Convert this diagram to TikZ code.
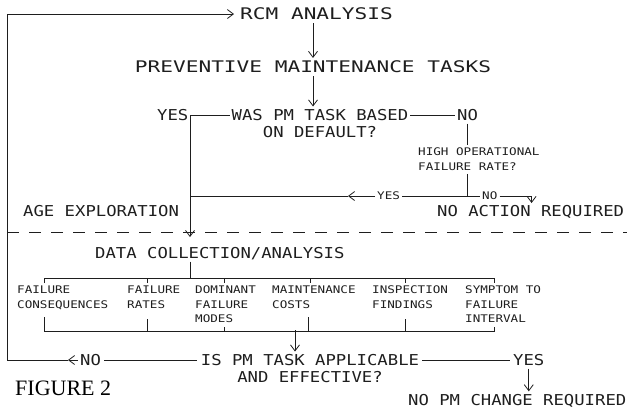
\documentclass[tikz,border=0pt]{standalone}
\usepackage{fontspec}
\usepackage{tikz}
\usetikzlibrary{arrows.meta, positioning, calc}
\newfontfamily\plotfont[FakeStretch = 1.15]{DejaVu Sans Mono}
\newfontfamily\plotwide[FakeStretch = 1.32]{DejaVu Sans Mono}
\newfontfamily\plotsmall[FakeStretch = 1.2]{DejaVu Sans Mono}
\newfontfamily\figfont{Liberation Serif}
\definecolor{PlotInk}{RGB}{30, 30, 30}

\begin{document}
\begin{tikzpicture}[
        x = 1pt, y = -1pt,
        titletxt/.style = {
            font = \plotwide\fontsize{16}{19}\selectfont,
            inner sep = 0pt,
            text height = 11.7pt,
            text depth = 0pt,
            text = PlotInk
        },
        midtxt/.style = {
            font = \plotfont\fontsize{15}{17}\selectfont,
            inner sep = 0pt,
            text = PlotInk
        },
        midone/.style = {midtxt, text height = 11pt, text depth = 0pt},
        smalltxt/.style = {
            font = \plotsmall\fontsize{10.5}{14.5}\selectfont,
            inner sep = 0pt,
            align = left,
            text = PlotInk
        },
        smallone/.style = {smalltxt, text height = 7.7pt, text depth = 0pt},
        wire/.style = {line width = 0.8pt, PlotInk},
        arr/.style = {wire, -{Straight Barb[length = 6pt, width = 9pt]}}
    ]
        \useasboundingbox (0, 0) rectangle (627, 418);

        % top of the loop
        \node[titletxt, anchor = west] (rcm) at (240, 14) {RCM ANALYSIS};
        \node[titletxt] (pmt) at (313, 67) {PREVENTIVE MAINTENANCE TASKS};

        % default decision
        \node[midtxt, align = center, anchor = north] (was) at (320, 109.5) {WAS PM TASK BASED\\ON DEFAULT?};
        \node[midone, anchor = west] (yes1) at (157, 115) {YES};
        \node[midone, anchor = west] (no1) at (457, 115) {NO};
        \node[smalltxt, anchor = north west] (high) at (418, 148) {HIGH OPERATIONAL\\FAILURE RATE?};
        \node[smallone, anchor = west] (yes2) at (377, 196) {YES};
        \node[smallone, anchor = west] (no2) at (482, 196) {NO};
        \node[midone, anchor = west] (noact) at (437, 211) {NO ACTION REQUIRED};
        \node[midone, anchor = west] (age) at (23, 211) {AGE EXPLORATION};

        \coordinate (bend) at (190, 115);
        \coordinate (fork) at (467, 196);
        \coordinate (tipl) at (348, 196);
        \coordinate (dashl) at (7, 232);
        \coordinate (dashr) at (627, 232);

        % data collection
        \node[midone, anchor = west] (dca) at (95, 253) {DATA COLLECTION/ANALYSIS};
        \node[smalltxt, anchor = north west] (c1) at (17, 286) {FAILURE\\CONSEQUENCES};
        \node[smalltxt, anchor = north west] (c2) at (127, 286) {FAILURE\\RATES};
        \node[smalltxt, anchor = north west] (c3) at (195, 286) {DOMINANT\\FAILURE\\MODES};
        \node[smalltxt, anchor = north west] (c4) at (272, 286) {MAINTENANCE\\COSTS};
        \node[smalltxt, anchor = north west] (c5) at (372, 286) {INSPECTION\\FINDINGS};
        \node[smalltxt, anchor = north west] (c6) at (465, 286) {SYMPTOM TO\\FAILURE\\INTERVAL};

        \coordinate (topbar) at (190, 278);
        \coordinate (botmid) at (295, 330);

        % applicability decision
        \node[midtxt, align = center, anchor = north] (ispm) at (310, 354.5) {IS PM TASK APPLICABLE\\AND EFFECTIVE?};
        \node[midone, anchor = west] (yes3) at (513, 360) {YES};
        \node[midone, anchor = west] (no3) at (80, 360) {NO};
        \node[midone, anchor = west] (nopm) at (408, 400) {NO PM CHANGE REQUIRED};
        \node[font = \figfont\fontsize{22}{26}\selectfont, inner sep = 0pt, text height = 14.6pt, text depth = 0pt, anchor = west] (fig) at (15, 388) {FIGURE 2};

        \coordinate (tipn) at (68, 360);
        \coordinate (loopc) at (7, 360);

        \draw[arr, shorten < = 3pt, shorten > = 3pt] (rcm.south -| pmt) -- (pmt.north);
        \draw[arr, shorten < = 3pt, shorten > = 3pt] (pmt.south) -- (pmt.south |- was.north);
        \draw[wire, shorten < = 2pt, shorten > = 2pt] (yes1.east) -- (yes1.east -| was.west);
        \draw[wire, shorten < = 2pt, shorten > = 2pt] (no1.west -| was.east) -- (no1.west);
        \draw[wire, shorten < = 3pt, shorten > = 3pt] (no1.south) -- (no1.south |- high.north);
        \draw[wire, shorten < = 3pt] (fork |- high.south) -- (fork);
        \draw[wire, shorten < = 2pt, shorten > = 2pt] (yes2.east) -- (no2.west);
        \draw[arr, shorten < = 2pt] (no2.east) -| ($(no2.east) + (34, 7)$);
        \draw[arr, shorten < = 2pt] (yes2.west) -- (tipl);
        \draw[wire] (tipl) -- (bend |- tipl);
        \draw[arr] (bend) -- ($(bend |- dashl) + (0, 5)$);
        \draw[wire, dash pattern = on 12pt off 10pt] (dashl) -- (dashr);

        \draw[wire, shorten < = 3pt] (topbar |- dca.south) -- (topbar);
        \draw[wire] (44, 283) |- (494, 278) -- (494, 283)
            (147, 278) -- (147, 283)
            (224, 278) -- (224, 283)
            (310, 278) -- (310, 283)
            (405, 278) -- (405, 283);
        \draw[wire] (44, 317) |- (494, 331) -- (494, 327)
            (147, 319) -- (147, 331)
            (224, 327) -- (224, 331)
            (308, 317) -- (308, 331)
            (405, 319) -- (405, 331);
        \draw[arr, shorten > = 3pt] (botmid) -- (botmid |- ispm.north);

        \draw[wire, shorten < = 3pt, shorten > = 3pt] (yes3.west -| ispm.east) -- (yes3.west);
        \draw[arr, shorten < = 3pt, shorten > = 3pt] (yes3.south) -- (yes3.south |- nopm.north);
        \draw[wire, shorten < = 4pt, shorten > = 3pt] (no3.west -| ispm.west) -- (no3.east);
        \draw[arr, shorten < = 2pt] (no3.west) -- (tipn);
        \draw[arr, shorten > = 6pt] (tipn) -- (loopc) |- (rcm.west);
    \end{tikzpicture}
\end{document}
